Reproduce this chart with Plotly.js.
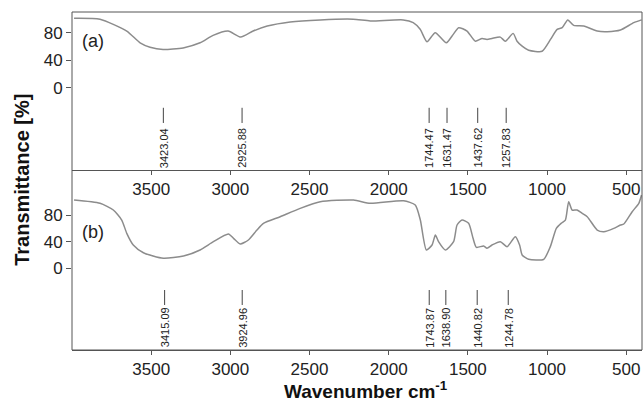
<!DOCTYPE html>
<html>
<head>
<meta charset="utf-8">
<script src="https://cdn.plot.ly/plotly-3.0.1.min.js"></script>
<style>
html,body{margin:0;padding:0;background:#fff;}
#chart{width:644px;height:402px;}
</style>
</head>
<body>
<div id="chart"></div>
<script>
// Spectrum (a)
const wavenumberA = [3987,3823,3654,3570,3507,3425,3298,3191,3109,3014,2934,2856,2767,2622,2432,2224,2116,1908,1845,1801,1758,1706,1636,1592,1558,1505,1453,1410,1379,1347,1295,1263,1214,1189,1157,1116,1031,978,936,904,869,831,768,683,620,536,452,403];
const transmittanceA = [101.5,100,82.8,65.7,59.3,55.9,58.3,65.7,76.5,82.8,74,82.8,90,96,99,100,97.5,99,95,85.3,67.2,80.4,65.7,78,87.7,82.8,68,72,70.6,72,74,68,79.4,68,60.8,54.9,53.4,70.6,85.3,87.7,99,91,90,82.8,81.9,84.3,95,99];

// Spectrum (b)
const wavenumberB = [3987,3823,3739,3686,3654,3613,3549,3423,3296,3191,3107,3012,2980,2938,2886,2832,2791,2685,2559,2432,2222,2116,1906,1832,1800,1762,1726,1705,1685,1642,1590,1568,1537,1495,1467,1446,1400,1379,1347,1295,1252,1200,1173,1157,1116,1021,979,941,911,884,863,841,810,778,746,683,641,578,536,515,462,420,403];
const transmittanceB = [102.5,97.6,87.5,72.5,52.5,35,23.4,15,18.5,27.5,40,51.5,45,36.5,42.5,57.5,67.5,77.5,90,100,102.5,97.6,101.5,95,72.5,27.5,35,50,40,27.5,40,65,72.5,67.5,45,31.5,33.5,30,35,40,32.5,47.5,35,20,13.5,13.5,32.5,60,67.5,72.5,100,87.5,87.5,82.5,77.5,57.5,55,60,65,66.5,85,97.6,110];

// Peak markers
const peaksA = [3423.04, 2925.88, 1744.47, 1631.47, 1437.62, 1257.83];
const peakLabelsA = ["3423.04", "2925.88", "1744.47", "1631.47", "1437.62", "1257.83"];
const peaksB = [3415.09, 2924.96, 1743.87, 1638.90, 1440.82, 1244.78];
const peakLabelsB = ["3415.09", "3924.96", "1743.87", "1638.90", "1440.82", "1244.78"];

// Axis ticks
const xTicks = [3500, 3000, 2500, 2000, 1500, 1000, 500];
const yTicks = [0, 40, 80];
const panelLabels = ["(a)", "(b)"];

const lineColor = '#555';
const fontFam = 'Liberation Sans, Arial, sans-serif';
const curveStyle = {color: '#8c8c8c', width: 1.5, shape: 'spline', smoothing: 0.6};

const traces = [
  {x: wavenumberA, y: transmittanceA, xaxis: 'x', yaxis: 'y', mode: 'lines', line: curveStyle, hoverinfo: 'skip'},
  {x: wavenumberB, y: transmittanceB, xaxis: 'x2', yaxis: 'y2', mode: 'lines', line: curveStyle, hoverinfo: 'skip'}
];

const shapes = [
  {type: 'rect', xref: 'paper', yref: 'paper', x0: 0, x1: 1, y0: 0, y1: 1, line: {color: lineColor, width: 1}}
];
const annotations = [];

function addPeaks(peaks, labels, xr, yr, yTop, yBot, yLab) {
  peaks.forEach((p, i) => {
    shapes.push({type: 'line', xref: xr, yref: yr, x0: p, x1: p, y0: yTop, y1: yBot, line: {color: '#444', width: 1}});
    annotations.push({x: p, y: yLab, xref: xr, yref: yr, text: labels[i], showarrow: false,
      textangle: -90, xanchor: 'center', yanchor: 'bottom', borderpad: 0,
      font: {family: fontFam, size: 11, color: '#222'}});
  });
}
addPeaks(peaksA, peakLabelsA, 'x', 'y', -28.8, -50.9, -117.5);
addPeaks(peaksB, peakLabelsB, 'x2', 'y2', -32.6, -55.1, -120.5);

annotations.push({x: 3949, y: 69, xref: 'x', yref: 'y', text: panelLabels[0], showarrow: false, xanchor: 'left', yanchor: 'middle', font: {family: fontFam, size: 18, color: '#222'}});
annotations.push({x: 3949, y: 54, xref: 'x2', yref: 'y2', text: panelLabels[1], showarrow: false, xanchor: 'left', yanchor: 'middle', font: {family: fontFam, size: 18, color: '#222'}});

annotations.push({x: -0.088, y: 0.503, xref: 'paper', yref: 'paper', text: 'Transmittance [%]', showarrow: false, textangle: -90, xanchor: 'center', yanchor: 'middle', font: {family: fontFam, size: 20, color: '#111', weight: 'bold'}});
annotations.push({x: 0.516, y: -0.117, xref: 'paper', yref: 'paper', text: 'Wavenumber cm<sup>-1</sup>', showarrow: false, xanchor: 'center', yanchor: 'middle', font: {family: fontFam, size: 19, color: '#111', weight: 'bold'}});

const xCommon = {range: [4000, 400], tickvals: xTicks, ticks: 'outside', ticklen: 4, tickcolor: lineColor,
  showline: true, linecolor: lineColor, linewidth: 1, showgrid: false, zeroline: false,
  tickfont: {family: fontFam, size: 17, color: '#222'}};
const yCommon = {tickvals: yTicks, ticks: 'outside', ticklen: 5, tickcolor: lineColor, showline: false,
  showgrid: false, zeroline: false, tickfont: {family: fontFam, size: 17, color: '#222'}};

const layout = {
  width: 644, height: 402,
  margin: {l: 72, r: 2, t: 12, b: 52},
  paper_bgcolor: '#fff', plot_bgcolor: '#fff',
  showlegend: false,
  xaxis: Object.assign({}, xCommon, {anchor: 'y', domain: [0, 1]}),
  yaxis: Object.assign({}, yCommon, {anchor: 'x', domain: [0.5325, 1], range: [-119.3, 110.5]}),
  xaxis2: Object.assign({}, xCommon, {anchor: 'y2', domain: [0, 1]}),
  yaxis2: Object.assign({}, yCommon, {anchor: 'x2', domain: [0, 0.4675], range: [-122.7, 114.6]}),
  shapes: shapes,
  annotations: annotations
};

Plotly.newPlot('chart', traces, layout, {displayModeBar: false, staticPlot: true});
</script>
</body>
</html>
